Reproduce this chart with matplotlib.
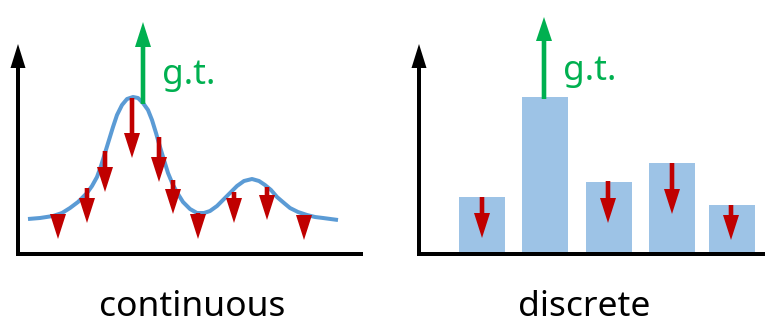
import matplotlib
matplotlib.use('Agg')
import matplotlib.pyplot as plt
from matplotlib.patches import FancyArrowPatch

plt.rcParams['font.family'] = ['Noto Sans', 'DejaVu Sans']

BLUE_LINE = '#5B9BD5'
BAR_BLUE = '#9DC3E6'
RED = '#C00000'
GREEN = '#00B050'

# continuous panel: curve
curve_x = [10, 22, 35, 44, 52, 60, 69, 74, 79, 83, 87, 91, 95, 99, 104, 109, 115, 120,
           125, 130, 134, 138, 142, 146, 150, 155, 160, 165, 172, 179, 186, 192, 199,
           205, 212, 219, 226, 234, 241, 247, 253, 259, 266, 272, 280, 289, 297, 305, 320]
curve_y = [35, 36, 38, 41, 46, 52, 61, 68, 77, 88, 101, 114, 127, 139, 149, 155, 157, 156,
           151, 144, 134, 121, 107, 94, 81, 69, 60, 52, 45, 41, 41, 43, 48,
           54, 61, 68, 73, 75, 73, 69, 64, 57, 51, 46, 42, 39, 37, 36, 34]

# red (prediction) arrows on the curve: x, start, tip
cont_arrow_x = [40, 69, 87, 114, 141, 155, 180, 216, 249, 286]
cont_arrow_top = [40, 66, 103, 156, 117, 74, 41, 62, 67, 39]
cont_arrow_tip = [15, 31, 62, 96, 72, 40, 15, 31, 34, 14]
cont_gt = (125, 150, 232)

# discrete panel: bars
bar_x = [63, 126, 189.5, 253, 313]
bar_h = [57, 157, 72, 91, 49]
disc_arrow_x = [63, 189, 253, 312]
disc_arrow_top = [57, 73, 91, 49]
disc_arrow_tip = [16, 31, 40, 14]
disc_gt = (125, 155, 237)

labels = ['continuous', 'discrete']

W, H = 783, 334
fig = plt.figure(figsize=(W / 100, H / 100), dpi=100)
axL = fig.add_axes([18 / W, 80 / H, 345 / W, 210 / H])
axR = fig.add_axes([419 / W, 80 / H, 346 / W, 210 / H])
axL.set_xlim(0, 345); axL.set_ylim(0, 210)
axR.set_xlim(0, 346); axR.set_ylim(0, 210)
for ax in (axL, axR):
    ax.axis('off')

PX = 0.72  # points per pixel


def arrow(ax, x, y0, y1, color, hw=16, hl=25, tw=4.6, z=5):
    style = 'simple,head_width=%.2f,head_length=%.2f,tail_width=%.2f' % (hw * PX, hl * PX, tw * PX)
    ax.add_patch(FancyArrowPatch((x, y0), (x, y1), arrowstyle=style, mutation_scale=1,
                                 shrinkA=0, shrinkB=0, color=color, lw=0,
                                 clip_on=False, zorder=z))


def frame(ax, xmax):
    ax.plot([0, xmax], [0, 0], color='black', lw=4 * PX, solid_capstyle='butt',
            clip_on=False, zorder=6)
    arrow(ax, 0, -2, 210, 'black', hw=15, hl=24, tw=4, z=6)


# continuous
axL.plot(curve_x, curve_y, color=BLUE_LINE, lw=4 * PX, solid_joinstyle='round',
         solid_capstyle='butt', zorder=3)
for x, a, b in zip(cont_arrow_x, cont_arrow_top, cont_arrow_tip):
    arrow(axL, x, a, b, RED)
arrow(axL, cont_gt[0], cont_gt[1], cont_gt[2], GREEN)
axL.text(144, 170, 'g.t.', color=GREEN, fontsize=25.5, ha='left', va='baseline')
frame(axL, 345)

# discrete
axR.bar(bar_x, bar_h, width=46, color=BAR_BLUE, zorder=2)
for x, a, b in zip(disc_arrow_x, disc_arrow_top, disc_arrow_tip):
    arrow(axR, x, a, b, RED)
arrow(axR, disc_gt[0], disc_gt[1], disc_gt[2], GREEN, hl=24)
axR.text(144, 174, 'g.t.', color=GREEN, fontsize=25.5, ha='left', va='baseline')
frame(axR, 346)

fig.text(192 / W, (H - 316) / H, labels[0], fontsize=25.5, ha='center', va='baseline')
fig.text(584 / W, (H - 316) / H, labels[1], fontsize=25.5, ha='center', va='baseline')

fig.savefig('out.png', dpi=100)
